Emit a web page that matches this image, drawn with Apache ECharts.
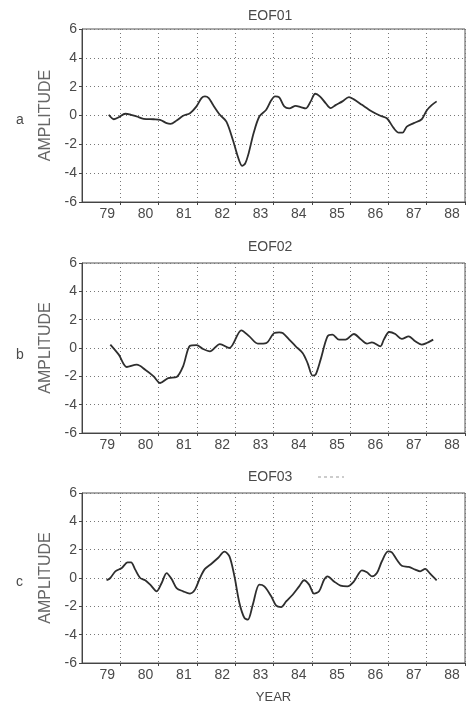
<!DOCTYPE html>
<html>
<head>
<meta charset="utf-8">
<script src="https://cdn.jsdelivr.net/npm/echarts@6/dist/echarts.min.js"></script>
<style>
html,body{margin:0;padding:0;background:#fff;}
#chart{width:467px;height:707px;}
</style>
</head>
<body>
<div id="chart"></div>
<script>
// Axis definitions
var yTicks = [-6, -4, -2, 0, 2, 4, 6];
var xTickLabels = ['79','80','81','82','83','84','85','86','87','88'];
var panelTitles = ['EOF01', 'EOF02', 'EOF03'];
var panelLetters = ['a', 'b', 'c'];

// EOF01 amplitude time series
var eof1Years = [78.70,78.83,78.96,79.13,79.28,79.43,79.61,79.87,80.04,80.21,80.31,80.47,80.64,80.82,80.99,81.12,81.21,81.31,81.42,81.60,81.77,81.94,82.07,82.18,82.26,82.35,82.48,82.63,82.81,82.94,83.04,83.15,83.28,83.41,83.58,83.71,83.84,83.97,84.09,84.21,84.36,84.49,84.62,84.80,84.97,85.10,85.31,85.57,85.79,85.96,86.14,86.27,86.37,86.48,86.66,86.87,87.00,87.13,87.26];
var eof1Vals = [0.05,-0.26,-0.12,0.12,0.05,-0.07,-0.23,-0.26,-0.30,-0.53,-0.58,-0.35,-0.02,0.16,0.63,1.21,1.33,1.21,0.74,0.05,-0.42,-1.70,-2.86,-3.49,-3.33,-2.63,-1.23,-0.07,0.40,1.05,1.33,1.26,0.63,0.49,0.67,0.58,0.49,0.98,1.51,1.33,0.86,0.51,0.72,0.98,1.28,1.12,0.74,0.28,-0.02,-0.19,-0.88,-1.19,-1.19,-0.77,-0.53,-0.26,0.35,0.72,0.98];

// EOF02 amplitude time series
var eof2Years = [78.74,78.96,79.17,79.43,79.65,79.87,80.04,80.25,80.47,80.64,80.82,80.99,81.16,81.34,81.60,81.85,82.16,82.37,82.59,82.81,83.02,83.15,83.24,83.41,83.58,83.76,83.89,84.02,84.10,84.23,84.41,84.54,84.71,84.88,85.10,85.27,85.44,85.57,85.79,85.88,86.02,86.18,86.35,86.53,86.70,86.87,87.00,87.17];
var eof2Vals = [0.24,-0.47,-1.34,-1.18,-1.53,-2.00,-2.47,-2.12,-2.05,-1.29,0.16,0.21,-0.07,-0.24,0.28,0.00,1.25,0.82,0.31,0.35,1.06,1.10,1.06,0.59,0.12,-0.35,-1.06,-1.95,-1.88,-0.82,0.82,0.94,0.59,0.59,0.99,0.64,0.31,0.40,0.12,0.59,1.13,0.99,0.64,0.82,0.47,0.24,0.35,0.59];

// EOF03 amplitude time series
var eof3Years = [78.64,78.74,78.87,79.04,79.19,79.28,79.39,79.52,79.65,79.78,79.95,80.08,80.21,80.34,80.47,80.64,80.82,80.95,81.08,81.21,81.38,81.55,81.72,81.85,81.98,82.11,82.24,82.33,82.46,82.63,82.76,82.94,83.07,83.20,83.33,83.50,83.67,83.80,83.93,84.06,84.19,84.32,84.41,84.58,84.75,84.93,85.10,85.31,85.44,85.57,85.70,85.83,85.99,86.09,86.22,86.35,86.53,86.70,86.83,86.96,87.09,87.26];
var eof3Vals = [-0.16,0.00,0.47,0.71,1.10,1.10,0.59,0.00,-0.16,-0.47,-0.94,-0.35,0.35,-0.07,-0.71,-0.94,-1.10,-0.82,0.00,0.64,1.01,1.41,1.86,1.53,0.12,-1.76,-2.82,-2.94,-1.88,-0.47,-0.59,-1.29,-1.95,-2.05,-1.65,-1.18,-0.59,-0.16,-0.47,-1.10,-0.94,-0.12,0.12,-0.24,-0.54,-0.59,-0.24,0.54,0.40,0.12,0.35,1.18,1.88,1.81,1.29,0.87,0.78,0.59,0.47,0.64,0.31,-0.16];

var allYears = [eof1Years, eof2Years, eof3Years];
var allVals = [eof1Vals, eof2Vals, eof3Vals];

var FONT = 'Liberation Sans';
var TXT = '#4a4a4a';
var grids = [
  {left: 82, right: 2, top: 29, height: 173},
  {left: 82, right: 2, top: 263, height: 170},
  {left: 82, right: 2, top: 493, height: 170}
];
var titleTops = [4, 235, 465];
var letterTops = [108, 343, 570];

var option = {
  backgroundColor: '#fff',
  animation: false,
  title: [],
  grid: [],
  xAxis: [],
  yAxis: [],
  series: [],
  graphic: [
    {type: 'line', shape: {x1: 318, y1: 477, x2: 344, y2: 477},
     style: {stroke: '#999', lineWidth: 1, lineDash: [3, 3]}}
  ]
};

for (var i = 0; i < 3; i++) {
  var g = grids[i];
  option.grid.push({left: g.left, right: g.right, top: g.top, height: g.height,
    show: true, borderColor: '#555', borderWidth: 1, backgroundColor: 'transparent'});
  option.title.push({text: panelTitles[i], left: 243, top: titleTops[i],
    textStyle: {fontFamily: FONT, fontSize: 14, fontWeight: 'normal', color: TXT}});
  option.title.push({text: panelLetters[i], left: 11, top: letterTops[i],
    textStyle: {fontFamily: FONT, fontSize: 14, fontWeight: 'normal', color: TXT}});
  option.xAxis.push({
    type: 'value', gridIndex: i, min: 78, max: 88, interval: 1,
    name: i === 2 ? 'YEAR' : '', nameLocation: 'middle', nameGap: 28,
    nameTextStyle: {fontFamily: FONT, fontSize: 13, color: TXT},
    axisLine: {show: true, onZero: false, lineStyle: {color: '#444', width: 1}},
    axisTick: {show: true, length: 3, lineStyle: {color: '#444'}},
    axisLabel: {
      fontFamily: FONT, fontSize: 14, color: TXT, margin: 5,
      padding: [0, 26, 0, 0],
      showMinLabel: false,
      formatter: function (v) { var idx = Math.round(v) - 79; return xTickLabels[idx] || ''; }
    },
    splitLine: {show: true, lineStyle: {color: '#777', width: 1, type: [1, 3]}}
  });
  option.yAxis.push({
    type: 'value', gridIndex: i, min: yTicks[0], max: yTicks[yTicks.length - 1], interval: 2,
    name: 'AMPLITUDE', nameLocation: 'middle', nameGap: 28, nameRotate: 90,
    nameTextStyle: {fontFamily: FONT, fontSize: 16, color: '#666'},
    axisLine: {show: true, lineStyle: {color: '#444', width: 1}},
    axisTick: {show: true, length: 3, lineStyle: {color: '#444'}},
    axisLabel: {fontFamily: FONT, fontSize: 14, color: TXT, margin: 5},
    splitLine: {show: true, lineStyle: {color: '#777', width: 1, type: [1, 3]}}
  });
  var d = [];
  for (var k = 0; k < allYears[i].length; k++) d.push([allYears[i][k], allVals[i][k]]);
  option.series.push({
    type: 'line', xAxisIndex: i, yAxisIndex: i, data: d, smooth: 0.3,
    showSymbol: false, lineStyle: {color: '#2e2e2e', width: 1.8}
  });
}

var chart = echarts.init(document.getElementById('chart'), null, {renderer: 'canvas'});
chart.setOption(option);
</script>
</body>
</html>
